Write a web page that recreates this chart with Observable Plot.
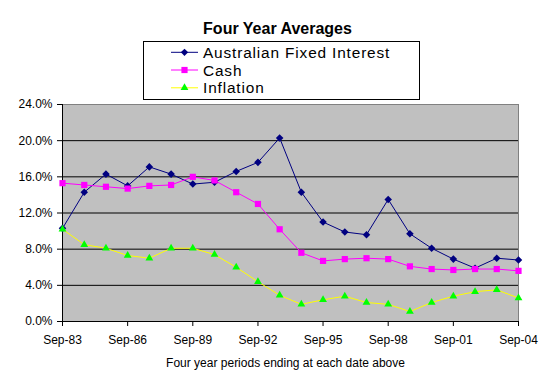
<!DOCTYPE html>
<html><head><meta charset="utf-8">
<script src="https://cdn.jsdelivr.net/npm/d3@7"></script>
<script src="https://cdn.jsdelivr.net/npm/@observablehq/plot@0.6"></script>
<style>
body{margin:0;background:#fff;}
#wrap{position:relative;width:555px;height:389px;font-family:"Liberation Sans",Arial,sans-serif;}
#wrap > svg{position:absolute;left:0;top:0;}
#legend{position:absolute;left:0;top:0;}
</style>
</head><body>
<div id="wrap"></div>
<script>
const periods = ["Sep-83","Sep-84","Sep-85","Sep-86","Sep-87","Sep-88","Sep-89","Sep-90","Sep-91","Sep-92","Sep-93","Sep-94","Sep-95","Sep-96","Sep-97","Sep-98","Sep-99","Sep-00","Sep-01","Sep-02","Sep-03","Sep-04"];
const fixedInterest = [10.3,14.3,16.3,15.0,17.1,16.3,15.2,15.4,16.6,17.6,20.3,14.3,11.0,9.9,9.6,13.5,9.7,8.1,6.9,5.9,7.0,6.8];
const cash = [15.3,15.1,14.9,14.7,15.0,15.1,16.0,15.6,14.3,13.0,10.2,7.6,6.7,6.9,7.0,6.9,6.1,5.8,5.7,5.8,5.8,5.6];
const inflation = [10.2,8.5,8.1,7.3,7.0,8.1,8.1,7.4,6.0,4.4,2.9,1.9,2.4,2.8,2.1,1.9,1.1,2.1,2.8,3.3,3.5,2.6];
const seriesNames = ["Australian Fixed Interest","Cash","Inflation"];
const xTickLabels = ["Sep-83","Sep-86","Sep-89","Sep-92","Sep-95","Sep-98","Sep-01","Sep-04"];
const yTicks = [0,4,8,12,16,20,24];
const gridLines = [4,8,12,16,20];
const titleText = "Four Year Averages";
const xTitle = "Four year periods ending at each date above";

const parse = d3.utcParse("%b-%y");
const fmt = d3.utcFormat("%b-%y");
const dates = periods.map(parse);
const table = (vals) => vals.map((v,i)=>({date:dates[i], value:v}));
const afi = table(fixedInterest), cashT = table(cash), infl = table(inflation);

const chart = Plot.plot({
  width:555, height:389,
  marginLeft:62, marginRight:37, marginTop:104, marginBottom:68,
  style:{fontFamily:"'Liberation Sans', Arial, sans-serif", fontSize:"12px", background:"transparent", color:"#000", overflow:"visible"},
  x:{type:"utc", domain:[dates[0], dates[dates.length-1]]},
  y:{domain:[0,24]},
  marks:[
    Plot.frame({fill:"#c0c0c0", stroke:"#808080"}),
    Plot.ruleY(gridLines, {stroke:"#000"}),
    Plot.ruleY([0], {stroke:"#000"}),
    Plot.ruleX([dates[0]], {stroke:"#000"}),
    Plot.axisY({ticks:yTicks, tickFormat:d=>d.toFixed(1)+"%", tickSize:5, tickPadding:5, label:null, fontSize:12}),
    Plot.axisX({ticks:xTickLabels.map(parse), tickFormat:fmt, tickSize:5, tickPadding:9, label:null, fontSize:12}),
    Plot.line(afi, {x:"date", y:"value", stroke:"#000080", strokeWidth:1}),
    Plot.dot(afi, {x:"date", y:"value", symbol:"diamond2", r:3.4, fill:"#000080", stroke:"none"}),
    Plot.line(cashT, {x:"date", y:"value", stroke:"#ff00ff", strokeWidth:1}),
    Plot.dot(cashT, {x:"date", y:"value", symbol:"square", r:3.5, fill:"#ff00ff", stroke:"none"}),
    Plot.line(infl, {x:"date", y:"value", stroke:"#ffff00", strokeWidth:1}),
    Plot.dot(infl, {x:"date", y:"value", symbol:"triangle", r:2.9, fill:"#00ff00", stroke:"none"}),
    Plot.text([titleText], {frameAnchor:"top", dx:-13, dy:-76, text:d=>d, fontSize:16, fontWeight:"bold", lineAnchor:"middle"}),
    Plot.text([xTitle], {frameAnchor:"bottom", dx:-5, dy:42, text:d=>d, fontSize:12, lineAnchor:"middle"})
  ]
});
document.getElementById("wrap").appendChild(chart);

// legend
const colors = ["#000080","#ff00ff","#ffff00"];
const markFill = ["#000080","#ff00ff","#00ff00"];
const syms = [d3.symbolDiamond2, d3.symbolSquare, d3.symbolTriangle];
const symSize = [Math.PI*3.3*3.3, Math.PI*3.5*3.5, Math.PI*2.9*2.9];
const lg = d3.create("svg").attr("id","legend").attr("width",555).attr("height",110);
lg.append("rect").attr("x",143.5).attr("y",41.5).attr("width",276).attr("height",58).attr("fill","#fff").attr("stroke","#000");
const rowY = [52.3,70,87.8];
seriesNames.forEach((name,i)=>{
  const g = lg.append("g");
  g.append("line").attr("x1",171).attr("x2",198).attr("y1",rowY[i]).attr("y2",rowY[i]).attr("stroke",colors[i]);
  g.append("path").attr("d",d3.symbol(syms[i], symSize[i])()).attr("transform",`translate(184.5,${rowY[i]})`).attr("fill",markFill[i]);
  g.append("text").attr("x",203).attr("y",rowY[i]+5.5).attr("font-size",15.4).attr("letter-spacing","0.85px").attr("font-family","'Liberation Sans', Arial, sans-serif").text(name);
});
document.getElementById("wrap").appendChild(lg.node());
</script>
</body></html>
